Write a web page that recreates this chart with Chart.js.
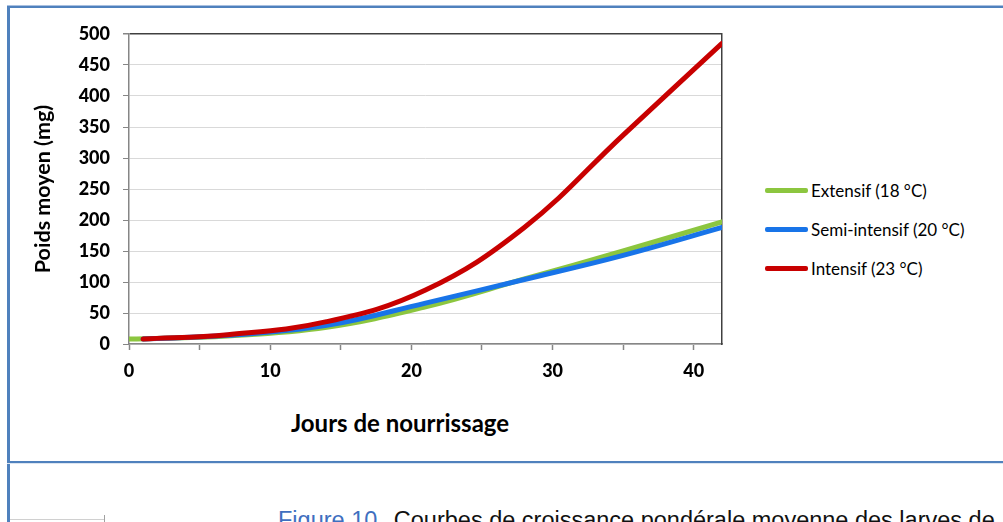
<!DOCTYPE html>
<html>
<head>
<meta charset="utf-8">
<script src="https://cdn.jsdelivr.net/npm/chart.js@4"></script>
<style>
  body { margin: 0; background: #fff; width: 1003px; height: 522px; overflow: hidden; position: relative; }
  .frame-left { position: absolute; left: 7px; top: 5px; width: 3px; height: 530px; background: #4f81bd; }
  .frame-top { position: absolute; left: 7px; top: 5px; width: 1000px; height: 2px; background: #4f81bd; border-top: 1px solid #a9c0e0; }
  .frame-mid { position: absolute; left: 7px; top: 461px; width: 1000px; height: 2px; background: #4f81bd; border-bottom: 1px solid #dbe5f1; }
  .corner { position: absolute; left: 10px; top: 519px; width: 94px; height: 1px; background: #d0d0d0; }
  .corner-tick { position: absolute; left: 104px; top: 515px; width: 1px; height: 7px; background: #a0a0a0; }
  #wrap { position: absolute; left: 10px; top: 8px; width: 740px; height: 380px; }
  #xtitle { position: absolute; left: 230px; width: 340px; top: 408px; text-align: center;
    font: bold 24px Lato, sans-serif; color: #000; }
  #legend { position: absolute; left: 765px; top: 171px; font: 17px Lato, sans-serif; color: #000; }
  #legend div { height: 39px; display: flex; align-items: center; }
  #legend span.line { display: inline-block; width: 43px; height: 5px; border-radius: 2px; margin-right: 3px; }
  #caption { position: absolute; left: 278px; top: 507px; white-space: nowrap;
    font: 23.5px "Liberation Sans", Arial, sans-serif; color: #111; }
  #caption .fig { color: #3f6fbf; margin-right: 10px; }
</style>
</head>
<body>
<div class="frame-left"></div>
<div class="frame-top"></div>
<div class="frame-mid"></div>
<div class="corner"></div>
<div class="corner-tick"></div>
<div id="wrap"><canvas id="growth"></canvas></div>
<div id="xtitle">Jours de nourrissage</div>
<div id="legend"></div>
<div id="caption"><span class="fig">Figure 10.</span>Courbes de croissance pondérale moyenne des larves de</div>
<script>
const seriesLabels = ['Extensif (18 °C)', 'Semi-intensif (20 °C)', 'Intensif (23 °C)'];

const extDays = [0, 7, 14, 21, 28, 35, 42];
const extWeight = [8, 13, 27, 60, 105, 150, 197];

const semiDays = [1, 7, 14, 21, 28, 35, 42];
const semiWeight = [8, 14, 30, 66, 104, 143, 188];

const intDays = [1, 7, 14, 21, 28, 35, 42];
const intWeight = [8, 15, 36, 87, 188, 337, 485];

const xTickValues = [0, 5, 10, 15, 20, 25, 30, 35, 40];

const colors = ['#8cc63f', '#1874e8', '#c80000'];

function pts(days, vals) {
  return days.map((d, i) => ({ x: d, y: vals[i] }));
}

Chart.defaults.font.family = 'Lato';
Chart.defaults.font.weight = 700;

const ctx = document.getElementById('growth');

const chart = new Chart(ctx, {
  type: 'line',
  data: {
    datasets: [
      { label: seriesLabels[0], data: pts(extDays, extWeight), borderColor: colors[0], backgroundColor: colors[0], order: 2 },
      { label: seriesLabels[1], data: pts(semiDays, semiWeight), borderColor: colors[1], backgroundColor: colors[1], order: 1 },
      { label: seriesLabels[2], data: pts(intDays, intWeight), borderColor: colors[2], backgroundColor: colors[2], order: 0 }
    ]
  },
  options: {
    responsive: true,
    maintainAspectRatio: false,
    animation: false,
    layout: { padding: { top: 26, right: 28, bottom: 0, left: 0 } },
    elements: {
      line: { borderWidth: 5, tension: 0.4, borderCapStyle: 'round' },
      point: { radius: 0 }
    },
    plugins: { legend: { display: false }, tooltip: { enabled: false } },
    scales: {
      x: {
        type: 'linear',
        min: 0,
        max: 42,
        afterFit: s => { s.height = 44; },
        afterBuildTicks: s => { s.ticks = xTickValues.map(v => ({ value: v })); },
        ticks: {
          padding: 10,
          color: '#000',
          font: { family: 'Lato', weight: 900, size: 18 },
          callback: v => (v % 10 === 0 ? v : '')
        },
        grid: { drawOnChartArea: false, tickLength: 6, tickColor: '#868686', tickWidth: 1.5 },
        border: { color: '#868686', width: 1.5 }
      },
      y: {
        min: 0,
        max: 500,
        afterFit: s => { s.width = 119; },
        ticks: {
          stepSize: 50,
          padding: 13,
          color: '#000',
          font: { family: 'Lato', weight: 900, size: 18 }
        },
        title: {
          display: true,
          text: 'Poids moyen (mg)',
          color: '#000',
          padding: { top: 20, bottom: 0 },
          font: { family: 'Lato', weight: 700, size: 21.5 }
        },
        grid: {
          color: c => (c.tick && c.tick.value === 500 ? '#404040' : '#d9d9d9'),
          lineWidth: c => (c.tick && c.tick.value === 500 ? 1.5 : 1),
          tickLength: 6,
          tickColor: '#868686'
        },
        border: { color: '#868686', width: 1.5 }
      },
      y2: {
        position: 'right',
        min: 0,
        max: 500,
        afterFit: s => { s.width = 0; },
        ticks: { display: false },
        grid: { drawOnChartArea: false, drawTicks: false },
        border: { color: '#404040', width: 1.5 }
      }
    }
  }
});

const legend = document.getElementById('legend');
chart.data.datasets.forEach(ds => {
  const row = document.createElement('div');
  const line = document.createElement('span');
  line.className = 'line';
  line.style.background = ds.borderColor;
  row.appendChild(line);
  row.appendChild(document.createTextNode(ds.label));
  legend.appendChild(row);
});
</script>
</body>
</html>
